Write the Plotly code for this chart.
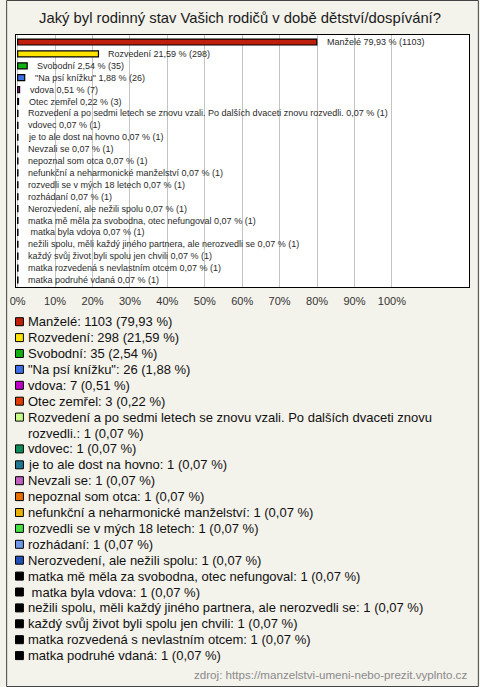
import textwrap
import plotly.graph_objects as go

# ---------------- data ----------------
categories = [
    "Manželé",
    "Rozvedení",
    "Svobodní",
    "\"Na psí knížku\"",
    "vdova",
    "Otec zemřel",
    "Rozvedení a po sedmi letech se znovu vzali. Po dalších dvaceti znovu rozvedli.",
    "vdovec",
    "je to ale dost na hovno",
    "Nevzali se",
    "nepoznal som otca",
    "nefunkční a neharmonické manželství",
    "rozvedli se v mých 18 letech",
    "rozhádaní",
    "Nerozvedení, ale nežili spolu",
    "matka mě měla za svobodna, otec nefungoval",
    "\u00a0matka byla vdova",
    "nežili spolu, měli každý jiného partnera, ale nerozvedli se",
    "každý svůj život byli spolu jen chvili",
    "matka rozvedená s nevlastním otcem",
    "matka podruhé vdaná",
]
counts = [1103, 298, 35, 26, 7, 3, 1, 1, 1, 1, 1, 1, 1, 1, 1, 1, 1, 1, 1, 1, 1]
percents = [79.93, 21.59, 2.54, 1.88, 0.51, 0.22, 0.07, 0.07, 0.07, 0.07, 0.07,
            0.07, 0.07, 0.07, 0.07, 0.07, 0.07, 0.07, 0.07, 0.07, 0.07]
colors = ["#c01f0c", "#ffe400", "#12b012", "#3f6fe8", "#c000c8", "#e03c00",
          "#c8ff88", "#0f8c5c", "#1f7890", "#c060c0", "#e87000", "#e8b000",
          "#44e044", "#6f98e8", "#2050b8", "#000000", "#000000", "#000000",
          "#000000", "#000000", "#000000"]
tick_values = [0, 10, 20, 30, 40, 50, 60, 70, 80, 90, 100]
tick_labels = ["0%", "10%", "20%", "30%", "40%", "50%", "60%", "70%", "80%", "90%", "100%"]
title_text = "Jaký byl rodinný stav Vašich rodičů v době dětství/dospívání?"
source_text = "zdroj: https://manzelstvi-umeni-nebo-prezit.vyplnto.cz"

# ---------------- layout geometry ----------------
W, H = 480, 687
ML, MR, MT, MB = 10, 10, 35, 400
PW, PH = W - ML - MR, H - MT - MB


def px_x(px):
    return (px - ML) / PW


def px_y(py):
    return 1 - (py - MT) / PH


def fmt(p):
    return f"{p:.2f}".replace(".", ",")


FONT = "Liberation Sans, Arial, sans-serif"

fig = go.Figure()
fig.add_trace(go.Bar(
    x=percents,
    y=categories,
    orientation="h",
    marker=dict(color=colors, line=dict(color="#000000", width=1.2)),
    width=0.5,
    hoverinfo="skip",
    showlegend=False,
))

annotations = []
# bar labels
for cat, cnt, p in zip(categories, counts, percents):
    annotations.append(dict(
        x=p, y=cat, xref="x", yref="y", xanchor="left", yanchor="middle",
        xshift=8, showarrow=False,
        text=f"{cat} {fmt(p)} % ({cnt})",
        font=dict(family=FONT, size=9, color="#2a2a2a"),
    ))

shapes = []
# custom legend
line_y0 = 321.7
line_step = 15.9
k = 0
for cat, cnt, p, col in zip(categories, counts, percents, colors):
    label = f"{cat}: {cnt} ({fmt(p)} %)"
    lines = textwrap.wrap(label, 72) if len(label) > 72 else [label]
    for j, ln in enumerate(lines):
        py = line_y0 + line_step * k
        if j == 0:
            shapes.append(dict(
                type="rect", xref="paper", yref="paper",
                x0=px_x(9.5), x1=px_x(17.5), y0=px_y(py + 4), y1=px_y(py - 4),
                fillcolor=col, line=dict(color="#000000", width=1), layer="above",
            ))
        annotations.append(dict(
            x=px_x(20), y=px_y(py), xref="paper", yref="paper",
            xanchor="left", yanchor="middle", showarrow=False,
            text=ln, font=dict(family=FONT, size=13, color="#111111"),
        ))
        k += 1

# source
annotations.append(dict(
    x=px_x(470), y=px_y(674), xref="paper", yref="paper",
    xanchor="right", yanchor="middle", showarrow=False,
    text=source_text, font=dict(family=FONT, size=11.6, color="#8a8a8a"),
))

# outer border
shapes.append(dict(
    type="rect", xref="paper", yref="paper",
    x0=px_x(0.5), x1=px_x(479.5), y0=px_y(686.5), y1=px_y(0.5),
    line=dict(color="#444444", width=1), fillcolor="rgba(0,0,0,0)", layer="above",
))

fig.update_layout(
    width=W, height=H,
    margin=dict(l=ML, r=MR, t=MT, b=MB, pad=0),
    paper_bgcolor="#f3f2eb",
    plot_bgcolor="#ffffff",
    title=dict(text=title_text, x=0.5, xanchor="center", y=1 - 18 / H,
               yanchor="middle", yref="container",
               font=dict(family=FONT, size=14.8, color="#1a1a1a")),
    xaxis=dict(range=[-0.45, 120.6], tickvals=tick_values, ticktext=tick_labels,
               showgrid=True, gridcolor="#c4c4c4", gridwidth=1, zeroline=False,
               showline=True, linecolor="#000000", linewidth=1, mirror=True,
               ticks="outside", ticklen=4, tickcolor="rgba(0,0,0,0)",
               tickfont=dict(family=FONT, size=11, color="#333333"),
               fixedrange=True),
    yaxis=dict(autorange="reversed", showticklabels=False, showgrid=False,
               zeroline=False, showline=True, linecolor="#000000", linewidth=1,
               mirror=True, fixedrange=True),
    annotations=annotations,
    shapes=shapes,
    bargap=0.5,
)

fig.write_html(
    "out.html",
    config={"displayModeBar": False},
    post_script="document.body.style.margin='0';document.body.style.overflow='hidden';",
)
